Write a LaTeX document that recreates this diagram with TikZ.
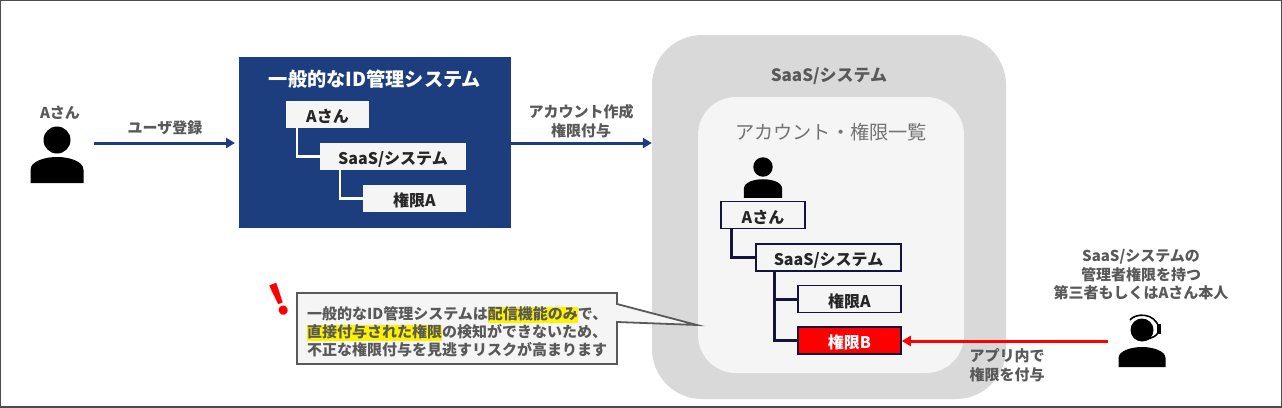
\documentclass[tikz,border=0pt]{standalone}
\usepackage{fontspec}
\usepackage{tikz}
\usetikzlibrary{arrows.meta}
\setmainfont{Noto Sans CJK JP}
\definecolor{idblue}{HTML}{1C3D7E}
\definecolor{areagray}{HTML}{D9D9D9}
\definecolor{paper}{HTML}{F5F5F5}
\definecolor{textgray}{HTML}{595959}
\definecolor{listnavy}{HTML}{14143F}
\newcommand{\hilite}[1]{\fboxsep=0pt\colorbox{yellow}{\rule[-3pt]{0pt}{14pt}#1}}

\begin{document}
\begin{tikzpicture}[x=1pt,y=-1pt,
      every node/.style={inner sep=0pt,align=center},
      label/.style={text=textgray,font=\fontsize{15}{18.5}\selectfont\bfseries},
      idbox/.style={fill=paper,text=black!85,minimum height=27pt,text height=16.6pt,text depth=0pt,font=\fontsize{16}{18}\selectfont\bfseries},
      listbox/.style={idbox,draw=listnavy,line width=1.6pt},
      idline/.style={draw=white,line width=2.6pt},
      listline/.style={draw=listnavy,line width=3pt},
      flow/.style={draw=idblue,line width=3pt,-{Triangle[length=9pt,width=10pt]}},
      pics/personicon/.style={code={
        \fill (0,0) circle (13.5);
        \fill (-26.5,43) -- (-26.5,30) .. controls (-26.5,21) and (-12,17) .. (0,17)
          .. controls (12,17) and (26.5,21) .. (26.5,30) -- (26.5,43) -- cycle;
      }},
      pics/operatoricon/.style={code={
        \fill (0,0) circle (11.5);
        \fill (-23.5,37) -- (-23.5,28) .. controls (-23.5,21) and (-11,17) .. (0,17)
          .. controls (11,17) and (23.5,21) .. (23.5,28) -- (23.5,37) -- cycle;
        \draw[line width=1.6pt] (-12,-10) .. controls (-7,-17) and (13,-18) .. (17,-2)
          .. controls (18,5) and (12,7) .. (3,10);
        \fill (14.5,-6) rectangle (18.5,4);
      }}]
    \useasboundingbox (0,0) rectangle (1282,407);
    \draw[draw=black!70,line width=2pt] (0,0) rectangle (1282,407);

    \pic at (57,140) {personicon};
    \node[label] (userName) at (60,113) {Aさん};
    \coordinate (userOut) at (94,143);
    \coordinate (userIn) at (235,143);

    \node[fill=idblue,minimum width=272pt,minimum height=171pt] (idSystem) at (375,142.5) {};
    \node[text=white,font=\fontsize{19.2}{22}\selectfont\bfseries] (idTitle) at (375,79) {一般的なID管理システム};
    \node[idbox,minimum width=83pt] (idUser) at (327.5,114.5) {Aさん};
    \node[idbox,minimum width=146pt] (idSaas) at (393,156.5) {SaaS/システム};
    \node[idbox,minimum width=103pt] (idPerm) at (414.5,198.5) {権限A};
    \draw[idline] ([xshift=11pt]idUser.south west) |- (idSaas.west);
    \draw[idline] ([xshift=20pt]idSaas.south west) |- (idPerm.west);

    \node[fill=areagray,rounded corners=50pt,minimum width=354pt,minimum height=364pt] (saasArea) at (829,217) {};
    \node[fill=paper,rounded corners=38pt,minimum width=266pt,minimum height=276pt] (listArea) at (831,235) {};
    \node[text=textgray,font=\fontsize{17}{20}\selectfont\bfseries] (saasTitle) at (829,76) {SaaS/システム};
    \node[text=black!55,font=\fontsize{19.2}{22}\selectfont] (listTitle) at (831,132) {アカウント・権限一覧};

    \draw[flow] (userOut) -- (userIn);
    \node[label] (signupLabel) at (165,128) {ユーザ登録};
    \draw[flow] (idSystem.east |- userOut) -- (saasArea.west |- userOut);
    \node[label] (grantLabel) at (581,121) {アカウント作成\\権限付与};

    \pic[scale=.72] at (763,167) {personicon};
    \node[listbox,minimum width=84pt] (listUser) at (763,215) {Aさん};
    \node[listbox,minimum width=145pt] (listSaas) at (828.5,257.5) {SaaS/システム};
    \node[listbox,minimum width=103pt] (listPermA) at (849.5,299) {権限A};
    \node[listbox,minimum width=103pt,fill=red,text=white] (listPermB) at (849.5,340.5) {権限B};
    \draw[listline] ([xshift=11pt]listUser.south west) |- (listSaas.west);
    \draw[listline] ([xshift=19pt]listSaas.south west) |- (listPermA.west);
    \draw[listline] ([xshift=19pt]listSaas.south west) |- (listPermB.west);

    \node[label] (adminLabel) at (1141,275) {SaaS/システムの\\管理者権限を持つ\\第三者もしくはAさん本人};
    \pic at (1142,330) {operatoricon};
    \coordinate (adminOut) at (1108,341);
    \draw[draw=red,line width=3pt,-{Triangle[length=9pt,width=10pt]}] (adminOut) -- (listPermB.east |- adminOut);
    \node[label] (appLabel) at (1007,365) {アプリ内で\\権限を付与};

    \coordinate (calloutTip) at (697,325);
    \draw[draw=textgray,fill=paper,line width=1.8pt] (297,293) -- (617,293) -- (617,304) -- (calloutTip)
      -- (617,322) -- (617,364) -- (297,364) -- cycle;
    \node[label,anchor=west,align=left,font=\fontsize{15}{17.8}\selectfont\bfseries] (calloutText) at (307,332)
      {一般的なID管理システムは\hilite{配信機能のみ}で、\\\hilite{直接付与された権限}の検知ができないため、\\不正な権限付与を見逃すリスクが高まります};
    \node[text=red,rotate=22,font=\fontsize{42}{44}\selectfont\bfseries] (alertMark) at (279,300) {!};
  \end{tikzpicture}
\end{document}
